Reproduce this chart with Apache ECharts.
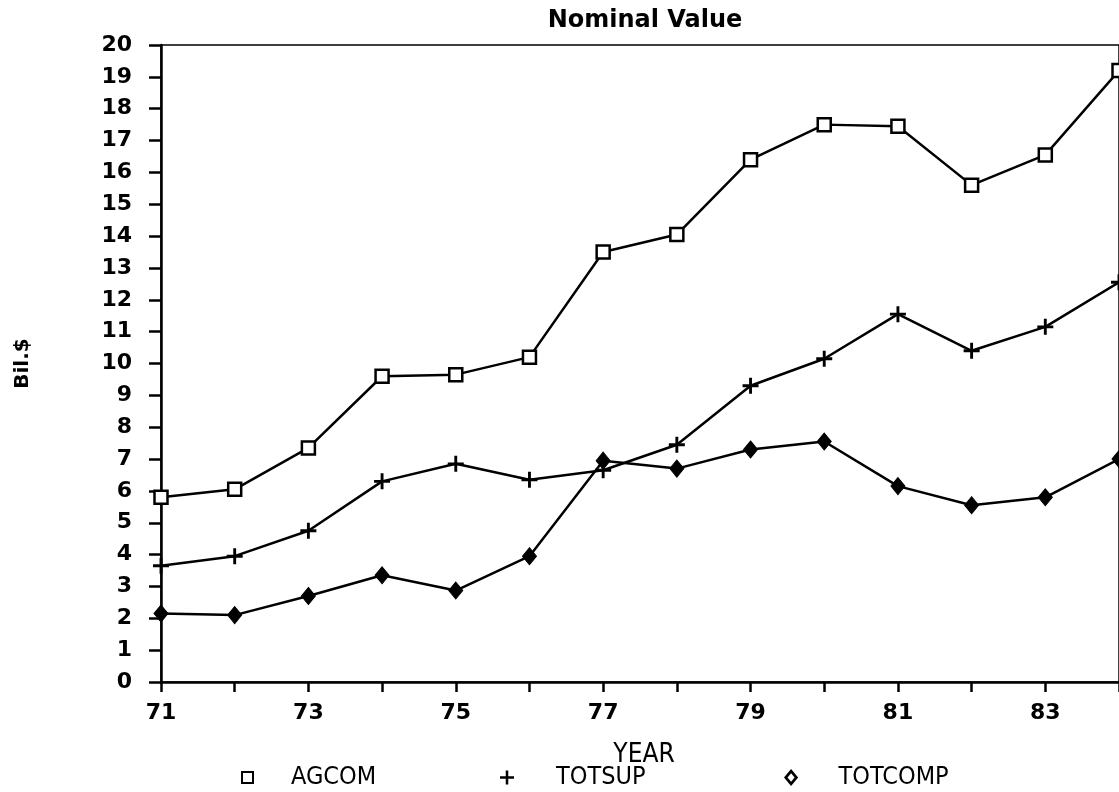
<!DOCTYPE html>
<html>
<head>
<meta charset="utf-8">
<script src="https://cdn.jsdelivr.net/npm/echarts@6/dist/echarts.min.js"></script>
<style>
html,body{margin:0;padding:0;background:#fff;}
#c{width:1119px;height:792px;}
</style>
</head>
<body>
<div id="c"></div>
<script>
var years = ['71','72','73','74','75','76','77','78','79','80','81','82','83','84'];
var agcom = [5.8, 6.05, 7.35, 9.6, 9.65, 10.2, 13.5, 14.05, 16.4, 17.5, 17.45, 15.6, 16.55, 19.2];
var totsup = [3.65, 3.95, 4.75, 6.3, 6.85, 6.35, 6.65, 7.45, 9.3, 10.15, 11.55, 10.4, 11.15, 12.55];
var totcomp = [2.15, 2.1, 2.7, 3.35, 2.87, 3.95, 6.95, 6.7, 7.3, 7.55, 6.15, 5.55, 5.8, 7.0];

var plusPath = 'path://M4.1,0h1.8v4.1h4.1v1.8h-4.1v4.1h-1.8v-4.1h-4.1v-1.8h4.1z';
var diamondOutline = 'path://M5,0L10,6L5,12L0,6z M5,3L2.5,6L5,9L7.5,6z';
var numFont = 'DejaVu Sans';
var narrowFont = '"Liberation Sans Narrow","DejaVu Sans Condensed","Liberation Sans",sans-serif';

var chart = echarts.init(document.getElementById('c'));
function legendAt(left, name, icon, style, pad, w, h){
  return {
    left: left, top: 760, orient: 'horizontal',
    data: [{name: name, icon: icon, itemStyle: style}],
    itemWidth: w, itemHeight: h,
    selectedMode: false,
    textStyle: {color:'#000', fontFamily: narrowFont, fontSize: 25, padding:[0,0,0,pad]}
  };
}
chart.setOption({
  animation: false,
  backgroundColor: '#fff',
  title: {
    text: 'Nominal Value', left: 640, textAlign: 'center', top: 4,
    textStyle: {fontFamily: numFont, fontWeight: 'bold', fontSize: 24, color: '#000'}
  },
  legend: [
    legendAt(236, 'AGCOM', 'rect', {color:'#fff', borderColor:'#000', borderWidth:2}, 33, 11, 11),
    legendAt(495, 'TOTSUP', plusPath, {color:'#000', borderWidth:0}, 37, 14, 14),
    legendAt(779, 'TOTCOMP', diamondOutline, {color:'#000', borderWidth:0}, 35, 15, 17)
  ],
  grid: {left: 161, right: 0, top: 45, bottom: 110, show: true, borderColor: '#000', borderWidth: 1.5, backgroundColor: 'transparent'},
  xAxis: {
    type: 'category', data: years, boundaryGap: false,
    name: 'YEAR', nameLocation: 'middle', nameGap: 60,
    nameTextStyle: {fontFamily: narrowFont, fontSize: 26, color: '#000', padding:[0,0,0,8]},
    axisLine: {lineStyle: {color:'#000', width: 2.5}},
    axisTick: {show: true, interval: 0, length: 10, lineStyle: {color:'#000', width: 2.5}},
    axisLabel: {interval: 1, margin: 20, fontFamily: numFont, fontWeight: 'bold', fontSize: 22, color:'#000'},
    splitLine: {show: false}
  },
  yAxis: {
    type: 'value', min: 0, max: 20, interval: 1,
    name: 'Bil.$', nameLocation: 'middle', nameGap: 128, nameRotate: 90,
    nameTextStyle: {fontFamily: numFont, fontWeight: 'bold', fontSize: 20, color: '#000'},
    axisLine: {show: true, lineStyle: {color:'#000', width: 2.5}},
    axisTick: {show: true, length: 12, lineStyle: {color:'#000', width: 2.5}},
    axisLabel: {margin: 29, fontFamily: numFont, fontWeight: 'bold', fontSize: 22, color:'#000'},
    splitLine: {show: false}
  },
  series: [
    {name:'AGCOM', type:'line', data: agcom, symbol:'rect', symbolSize: 13,
     lineStyle:{color:'#000', width:2.5}, itemStyle:{color:'#fff', borderColor:'#000', borderWidth:2.5}},
    {name:'TOTSUP', type:'line', data: totsup, symbol: plusPath, symbolSize: 16,
     lineStyle:{color:'#000', width:2.5}, itemStyle:{color:'#000', borderWidth:0}},
    {name:'TOTCOMP', type:'line', data: totcomp, symbol:'diamond', symbolSize: [14,17],
     lineStyle:{color:'#000', width:2.5}, itemStyle:{color:'#000', borderColor:'#000', borderWidth:1}}
  ]
});
</script>
</body>
</html>
